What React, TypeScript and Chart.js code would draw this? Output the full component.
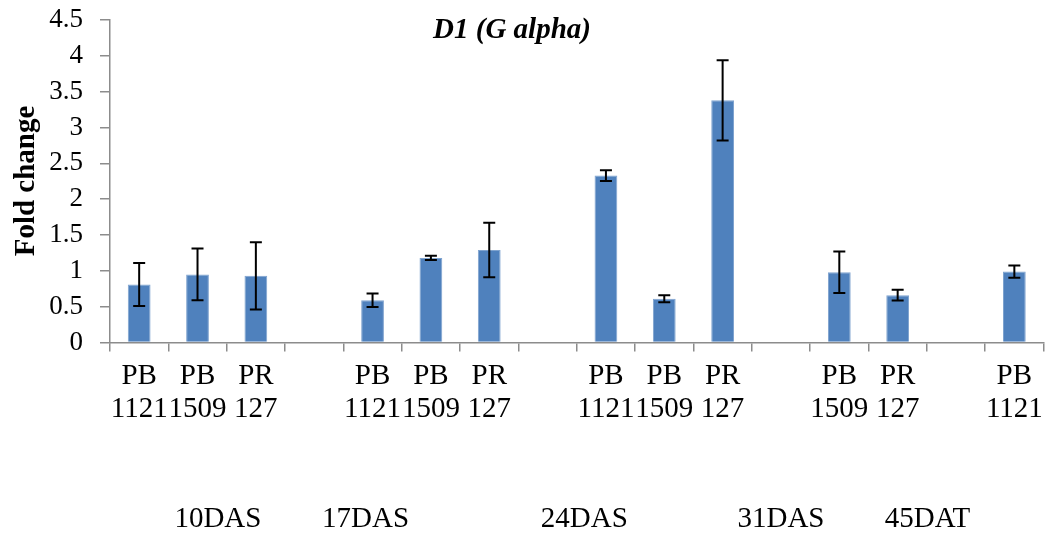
import React, { useEffect, useRef } from "react";
import { Chart, registerables } from "chart.js";

Chart.register(...registerables);

const categories: (string | string[])[] = [
  ["PB", "1121"], ["PB", "1509"], ["PR", "127"], "",
  ["PB", "1121"], ["PB", "1509"], ["PR", "127"], "",
  ["PB", "1121"], ["PB", "1509"], ["PR", "127"], "",
  ["PB", "1509"], ["PR", "127"], "",
  ["PB", "1121"],
];
const foldChange: (number | null)[] = [
  0.81, 0.95, 0.93, null,
  0.59, 1.18, 1.29, null,
  2.33, 0.61, 3.38, null,
  0.98, 0.66, null,
  0.99,
];
const errorValues: (number | null)[] = [
  0.3, 0.36, 0.47, null,
  0.095, 0.03, 0.38, null,
  0.075, 0.05, 0.56, null,
  0.29, 0.075, null,
  0.085,
];
const groupLabels = ["10DAS", "17DAS", "24DAS", "31DAS", "45DAT"];
const groupLabelPositions = [1.35, 3.88, 7.63, 11.0, 13.51];
const yTicks = { min: 0, max: 4.5, step: 0.5 };
const titleText = "D1 (G alpha)";
const yTitleText = "Fold change";

const FONT = "'Liberation Serif', 'Times New Roman', serif";
const AXIS_COLOR = "#8c8c8c";

export default function App() {
  const ref = useRef<HTMLCanvasElement | null>(null);
  useEffect(() => {
    if (!ref.current) return;
    const errorBars = {
      id: "errorBars",
      afterDatasetsDraw(chart: any) {
        const meta = chart.getDatasetMeta(0);
        const ys = chart.scales.y;
        const ctx = chart.ctx;
        ctx.save();
        ctx.strokeStyle = "#000";
        ctx.lineWidth = 2;
        meta.data.forEach((el: any, i: number) => {
          const v = foldChange[i];
          const e = errorValues[i];
          if (v == null || e == null) return;
          const x = el.x;
          const yt = ys.getPixelForValue(v + e);
          const yb = ys.getPixelForValue(v - e);
          ctx.beginPath();
          ctx.moveTo(x, yt);
          ctx.lineTo(x, yb);
          ctx.moveTo(x - 6, yt);
          ctx.lineTo(x + 6, yt);
          ctx.moveTo(x - 6, yb);
          ctx.lineTo(x + 6, yb);
          ctx.stroke();
        });
        ctx.restore();
      },
    };
    const texts = {
      id: "texts",
      afterDraw(chart: any) {
        const ctx = chart.ctx;
        const xs = chart.scales.x;
        ctx.save();
        ctx.fillStyle = "#000";
        ctx.textAlign = "center";
        ctx.textBaseline = "middle";
        ctx.font = `italic bold 29px ${FONT}`;
        ctx.fillText(titleText, 512, 31);
        ctx.font = `29px ${FONT}`;
        groupLabels.forEach((g, i) => {
          ctx.fillText(g, xs.getPixelForValue(groupLabelPositions[i]), 519);
        });
        ctx.translate(27, 181);
        ctx.rotate(-Math.PI / 2);
        ctx.font = `bold 29px ${FONT}`;
        ctx.fillText(yTitleText, 0, 0);
        ctx.restore();
      },
    };
    const chart = new Chart(ref.current, {
      type: "bar",
      data: {
        labels: categories as any,
        datasets: [
          {
            data: foldChange as any,
            backgroundColor: "#4F81BD",
            borderColor: "#7FA3CF",
            borderWidth: 1,
            barPercentage: 0.39,
            categoryPercentage: 1.0,
          },
        ],
      },
      options: {
        animation: false,
        responsive: false,
        maintainAspectRatio: false,
        layout: { padding: { left: 0, top: 20, right: 6, bottom: 0 } },
        plugins: { legend: { display: false }, tooltip: { enabled: false }, title: { display: false } },
        scales: {
          x: {
            type: "category",
            offset: true,
            grid: {
              display: true,
              offset: true,
              drawOnChartArea: false,
              drawTicks: true,
              tickLength: 9,
              color: AXIS_COLOR,
              lineWidth: 1.5,
            },
            border: { display: true, color: AXIS_COLOR, width: 1.5 },
            ticks: {
              color: "#000",
              font: { family: FONT, size: 29, lineHeight: 33 / 29 },
              padding: 8,
              maxRotation: 0,
              minRotation: 0,
              autoSkip: false,
            },
            afterFit: (s: any) => {
              s.height = 190.5;
            },
          },
          y: {
            min: yTicks.min,
            max: yTicks.max,
            grid: {
              display: true,
              drawOnChartArea: false,
              drawTicks: true,
              tickLength: 10,
              color: AXIS_COLOR,
              lineWidth: 1.5,
            },
            border: { display: true, color: AXIS_COLOR, width: 1.5 },
            ticks: {
              stepSize: yTicks.step,
              autoSkip: false,
              color: "#000",
              font: { family: FONT, size: 27 },
              padding: 17,
              callback: (v: any) => String(Math.round(Number(v) * 10) / 10),
            },
            afterFit: (s: any) => {
              s.width = 110;
              s.paddingTop = 0;
              s.paddingBottom = 0;
            },
          },
        },
      },
      plugins: [errorBars, texts],
    });
    return () => chart.destroy();
  }, []);
  return (
    <div style={{ position: "fixed", left: 0, top: 0, width: 1051, height: 533, background: "#fff" }}>
      <canvas ref={ref} width={1051} height={533} style={{ display: "block", width: 1051, height: 533 }} />
    </div>
  );
}
